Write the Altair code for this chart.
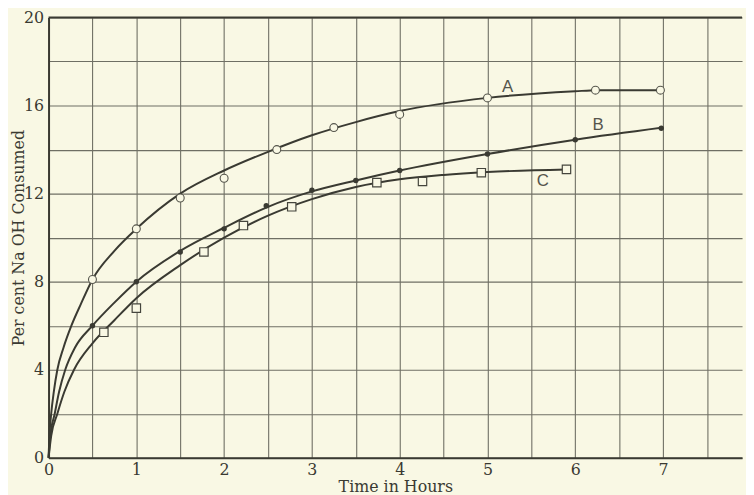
import altair as alt
import pandas as pd

# Observed points
A_x = [0.5, 1.0, 1.5, 2.0, 2.6, 3.25, 4.0, 5.0, 6.23, 6.97]
A_y = [8.1, 10.4, 11.8, 12.7, 14.0, 15.0, 15.6, 16.35, 16.7, 16.7]
B_x = [0.5, 1.0, 1.5, 2.0, 2.48, 3.0, 3.5, 4.0, 5.0, 6.0, 6.98]
B_y = [6.0, 8.0, 9.35, 10.4, 11.45, 12.15, 12.6, 13.05, 13.8, 14.45, 14.97]
C_x = [0.63, 1.0, 1.77, 2.22, 2.77, 3.74, 4.26, 4.93, 5.9]
C_y = [5.7, 6.8, 9.35, 10.55, 11.4, 12.5, 12.55, 12.95, 13.1]

# Drawn smooth curves
A_cx = [0, 0.01, 0.03, 0.06, 0.1, 0.17, 0.26, 0.37, 0.5, 0.75, 1.0, 1.5, 2.0, 2.5, 3.0, 3.5, 4.0, 5.0, 6.0, 6.25, 7.0]
A_cy = [0, 1.0, 2.0, 3.0, 4.0, 5.0, 6.0, 7.0, 8.1, 9.4, 10.4, 12.0, 13.05, 13.9, 14.65, 15.25, 15.75, 16.35, 16.65, 16.7, 16.7]
B_cx = [0, 0.02, 0.07, 0.12, 0.19, 0.3, 0.5, 0.75, 1.0, 1.5, 2.0, 2.5, 3.0, 3.5, 4.0, 5.0, 6.0, 7.0]
B_cy = [0, 1.0, 2.0, 3.0, 4.0, 5.0, 6.0, 7.05, 8.0, 9.4, 10.45, 11.4, 12.1, 12.6, 13.05, 13.8, 14.45, 15.0]
C_cx = [0, 0.03, 0.1, 0.18, 0.29, 0.5, 0.75, 1.0, 1.5, 2.0, 2.5, 3.0, 3.5, 4.0, 4.5, 5.0, 5.9]
C_cy = [0, 1.0, 2.0, 3.0, 4.0, 5.2, 6.25, 7.25, 8.75, 10.0, 11.0, 11.75, 12.3, 12.65, 12.85, 12.98, 13.1]

# Curve labels
lab_text = ["A", "B", "C"]
lab_x = [5.23, 6.26, 5.63]
lab_y = [16.85, 15.1, 12.58]

x_grid = [i * 0.5 for i in range(16)]
y_grid = [i * 2 for i in range(11)]

def pts(name, xs, ys):
    return pd.DataFrame({"series": name, "t": xs, "v": ys})

def crv(name, xs, ys):
    return pd.DataFrame({"series": name, "t": xs, "v": ys, "o": list(range(len(xs)))})

curves = pd.concat([crv("A", A_cx, A_cy), crv("B", B_cx, B_cy), crv("C", C_cx, C_cy)])
labels = pd.DataFrame({"text": lab_text, "t": lab_x, "v": lab_y})

INK = "#3a3a32"
BG = "#f9f8e4"
FONT = "DejaVu Serif"

xs = alt.Scale(domain=[0, 7.9], nice=False, zero=False)
ys = alt.Scale(domain=[0, 20], nice=False)

X = alt.X("t:Q", scale=xs, title="Time in Hours",
          axis=alt.Axis(values=x_grid,
                        labelExpr="datum.value % 1 == 0 ? format(datum.value, 'd') : ''",
                        ticks=False, labelPadding=4, titlePadding=1, labelFlush=False,
                        domainColor=INK, domainWidth=2, gridColor="#6f6f64", gridWidth=1.1,
                        labelFont=FONT, titleFont=FONT, labelFontSize=16, titleFontSize=16,
                        labelColor=INK, titleColor=INK, titleFontWeight="normal"))
Y = alt.Y("v:Q", scale=ys, title="Per cent Na OH Consumed",
          axis=alt.Axis(values=y_grid,
                        labelExpr="datum.value % 4 == 0 ? format(datum.value, 'd') : ''",
                        ticks=False, labelPadding=5, titlePadding=-3, labelFlush=False,
                        domainColor=INK, domainWidth=2, gridColor="#6f6f64", gridWidth=1.1,
                        labelFont=FONT, titleFont=FONT, labelFontSize=16, titleFontSize=16,
                        labelColor=INK, titleColor=INK, titleFontWeight="normal"))

lines = alt.Chart(curves).mark_line(color=INK, strokeWidth=2, interpolate="monotone").encode(
    x=X, y=Y, detail="series:N", order="o:Q")

a_pts = alt.Chart(pts("A", A_x, A_y)).mark_point(shape="circle", filled=False, color="#55554c",
                                                 size=64, strokeWidth=1.1, fill=BG, fillOpacity=1).encode(x="t:Q", y="v:Q")
b_pts = alt.Chart(pts("B", B_x, B_y)).mark_circle(color=INK, size=30, opacity=1).encode(x="t:Q", y="v:Q")
c_pts = alt.Chart(pts("C", C_x, C_y)).mark_point(shape="square", filled=False, color="#45453d",
                                                 size=72, strokeWidth=1.2, fill=BG, fillOpacity=1).encode(x="t:Q", y="v:Q")

top = alt.Chart(pd.DataFrame({"v": [20]})).mark_rule(color=INK, strokeWidth=2).encode(y=alt.Y("v:Q", scale=ys))

txt = alt.Chart(labels).mark_text(font="Liberation Sans", fontSize=17, color="#55554c").encode(
    x="t:Q", y="v:Q", text="text:N")

chart = alt.layer(lines, a_pts, b_pts, c_pts, top, txt).properties(
    width=701, height=445, autosize="none",
    padding={"left": 41, "top": 7, "right": 4, "bottom": 35},
).configure(background=BG).configure_view(stroke=None)

chart.save("out.html", embed_options={"renderer": "svg", "actions": False})
